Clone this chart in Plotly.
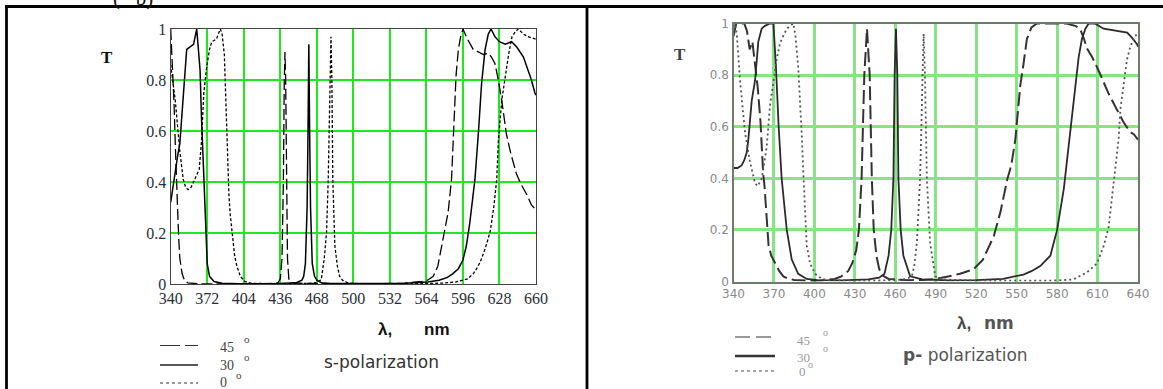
import plotly.graph_objects as go

# ---------------- data: s-polarization (left panel) ----------------
s_x_ticks = list(range(340, 661, 32))
s45_x = [340, 341, 342, 343, 344, 345, 346, 347, 348, 350, 352, 355, 365, 380, 400, 420, 430, 434, 436, 437.5,
         438.7, 439.5, 440.1, 440.7, 441.4, 442.3, 443.5, 446, 455, 480, 520, 545, 555, 560, 565, 570, 574, 577,
         580, 583, 586, 588, 590, 592, 594, 596, 600, 605, 610, 614, 618, 621, 624, 627, 630, 634, 638, 643,
         647, 652, 656, 660]
s45_y = [1.0, 0.9, 0.85, 0.7, 0.55, 0.45, 0.3, 0.18, 0.1, 0.04, 0.015, 0.004, 0.001, 0, 0, 0.001, 0.002, 0.005,
         0.02, 0.1, 0.4, 0.8, 0.91, 0.8, 0.4, 0.1, 0.02, 0.005, 0.002, 0.001, 0.001, 0.003, 0.006, 0.01, 0.015,
         0.03, 0.07, 0.14, 0.2, 0.28, 0.41, 0.6, 0.82, 0.92, 0.97, 1.0, 0.96, 0.92, 0.91, 0.9, 0.905, 0.89,
         0.865, 0.8, 0.72, 0.59, 0.51, 0.43, 0.39, 0.35, 0.31, 0.29]
s30_x = [340, 342, 344, 346, 348, 350, 351, 353, 354, 357, 360, 362.8, 364.3, 365.7, 367, 368.6, 370, 371, 372,
         374, 378, 385, 400, 430, 445, 450, 455, 456.5, 458, 459.5, 460.3, 461, 461.7, 462.5, 464, 466, 468, 472,
         480, 500, 530, 545, 555, 565, 575, 582, 587, 592, 596, 599, 602, 604, 606.5, 609.5, 612.4, 615.4,
         618.2, 620.6, 624, 628, 633, 638.6, 643, 649, 653, 656, 659, 660]
s30_y = [0.32, 0.38, 0.45, 0.5, 0.55, 0.68, 0.75, 0.88, 0.92, 0.93, 0.94, 1.0, 0.92, 0.84, 0.65, 0.46, 0.33,
         0.15, 0.08, 0.03, 0.01, 0.003, 0.001, 0.001, 0.002, 0.005, 0.015, 0.03, 0.08, 0.3, 0.6, 0.94, 0.6, 0.3,
         0.08, 0.03, 0.015, 0.005, 0.002, 0.001, 0.002, 0.003, 0.005, 0.008, 0.015, 0.025, 0.04, 0.06, 0.094,
         0.15, 0.24, 0.32, 0.41, 0.59, 0.79, 0.92, 0.98, 1.0, 0.97, 0.95, 0.94, 0.95, 0.93, 0.89, 0.84, 0.8,
         0.75, 0.74]
s0_x = [340, 342, 344, 346, 348, 351, 353, 355.4, 358, 360, 362, 365, 367, 369, 371.5, 374, 376, 380, 383.5,
        385, 387, 388.5, 390, 391, 392, 394, 396, 398, 401, 405, 410, 430, 465, 470, 472, 474.5, 476.5, 478,
        479.5, 480.4, 481.2, 482, 483.8, 486, 488, 490.5, 495, 500, 530, 560, 580, 590, 600, 605, 608, 611,
        614, 617, 620, 623, 625.6, 627, 630, 633, 636, 639, 642, 644.5, 649, 653, 660]
s0_y = [0.86, 0.8, 0.72, 0.62, 0.52, 0.41, 0.38, 0.37, 0.38, 0.4, 0.42, 0.45, 0.56, 0.75, 0.85, 0.92, 0.95,
        0.96, 1.0, 0.98, 0.9, 0.7, 0.45, 0.35, 0.28, 0.18, 0.11, 0.07, 0.03, 0.01, 0.003, 0.001, 0.003, 0.01,
        0.02, 0.1, 0.2, 0.41, 0.8, 0.97, 0.8, 0.41, 0.15, 0.07, 0.03, 0.015, 0.005, 0.002, 0.001, 0.001, 0.004,
        0.008, 0.02, 0.04, 0.06, 0.085, 0.12, 0.16, 0.21, 0.3, 0.41, 0.56, 0.72, 0.81, 0.9, 0.97, 0.99, 1.0,
        0.98, 0.97, 0.96]

# ---------------- data: p-polarization (right panel) ----------------
p_x_ticks = list(range(340, 641, 30))
p45_x = [340, 342, 345, 348, 350, 352, 354, 356, 358, 360, 361, 362, 363, 364, 366, 368, 371, 374, 377, 380,
         385, 395, 405, 415, 420, 425, 428, 431, 433, 435, 437, 439, 441, 442.6, 444, 446, 448, 450, 455, 460,
         470, 480, 490, 500, 508, 518, 525, 533, 538, 543, 546, 549, 551.4, 552.7, 555, 557.6, 561, 565, 573,
         587, 594, 597, 600, 602, 606, 611, 618, 623, 629, 634, 637, 640]
p45_y = [0.95, 1.0, 1.0, 1.0, 0.97, 0.9, 0.93, 0.85, 0.75, 0.62, 0.5, 0.42, 0.37, 0.3, 0.14, 0.1, 0.07, 0.04,
         0.02, 0.012, 0.006, 0.003, 0.004, 0.01, 0.02, 0.04, 0.07, 0.12, 0.2, 0.4, 0.8, 0.98, 0.8, 0.4, 0.2, 0.1,
         0.05, 0.025, 0.01, 0.008, 0.005, 0.006, 0.01, 0.02, 0.03, 0.047, 0.085, 0.175, 0.27, 0.395, 0.45, 0.55,
         0.67, 0.76, 0.84, 0.94, 0.985, 1.0, 1.0, 1.0, 0.99, 0.98, 0.94, 0.905, 0.87, 0.815, 0.73, 0.68, 0.62,
         0.58, 0.57, 0.55]
p30_x = [340, 343, 346, 348, 349.8, 351, 353.5, 356, 358.4, 360.9, 363, 367, 369.6, 371.5, 373.5, 375.7, 379.5,
         383.2, 388, 394.3, 402, 420, 440, 448, 452, 455, 457, 458.6, 459.5, 460.5, 461.5, 462.3, 464, 466, 471,
         480, 500, 520, 540, 550, 555, 561, 567.5, 575, 580, 585, 588.5, 591, 593.5, 596, 598.4, 601, 603.4,
         608, 614.5, 621, 627, 632, 635.5, 639.3, 640]
p30_y = [0.44, 0.44, 0.45, 0.47, 0.5, 0.55, 0.7, 0.78, 0.93, 0.98, 0.99, 1.0, 1.0, 0.83, 0.6, 0.4, 0.2, 0.085,
         0.03, 0.01, 0.005, 0.004, 0.008, 0.015, 0.03, 0.1, 0.2, 0.4, 0.8, 0.98, 0.8, 0.4, 0.2, 0.1, 0.02, 0.008,
         0.004, 0.005, 0.01, 0.02, 0.027, 0.04, 0.06, 0.1, 0.2, 0.36, 0.52, 0.65, 0.77, 0.87, 0.94, 0.98, 1.0,
         1.0, 0.98, 0.975, 0.97, 0.965, 0.945, 0.92, 0.91]
p0_x = [340, 341, 342.4, 345, 348.5, 352, 356, 358, 361, 364.6, 367, 369.6, 372, 374.5, 379.5, 384.4, 386, 388,
        389.4, 390.6, 391.8, 393, 394.3, 396.8, 400.5, 405.5, 410, 440, 460, 468, 472.3, 474, 476, 478.4, 480,
        481, 482, 483.4, 485.8, 489.6, 495, 520, 560, 580, 592, 602, 609.6, 614.5, 618.2, 620.7, 623.2, 625.6,
        627, 629.3, 631.8, 634.3, 637.3, 640]
p0_y = [0.97, 1.0, 0.96, 0.77, 0.58, 0.47, 0.38, 0.37, 0.4, 0.52, 0.68, 0.77, 0.86, 0.925, 0.98, 1.0, 0.95,
        0.83, 0.7, 0.57, 0.42, 0.25, 0.14, 0.07, 0.03, 0.01, 0.005, 0.003, 0.005, 0.01, 0.02, 0.06, 0.15, 0.4,
        0.8, 0.96, 0.8, 0.4, 0.15, 0.02, 0.008, 0.004, 0.003, 0.004, 0.008, 0.035, 0.07, 0.137, 0.21, 0.32,
        0.45, 0.55, 0.67, 0.76, 0.86, 0.91, 0.95, 0.96]

y_ticks = [0, 0.2, 0.4, 0.6, 0.8, 1]

# ---------------- layout geometry (pixels) ----------------
W, H = 1163, 389
def fx(px):
    return px / W
def fy(py):
    return 1 - py / H

L = dict(x0=170.7, x1=536.0, y0=284.0, y1=29.0)
R = dict(x0=733.5, x1=1138.0, y0=281.5, y1=23.5)

fig = go.Figure()

fig.add_trace(go.Scatter(x=s45_x, y=s45_y, mode="lines", xaxis="x", yaxis="y",
                         line=dict(color="#000", width=1.3, dash="11px,4px")))
fig.add_trace(go.Scatter(x=s30_x, y=s30_y, mode="lines", xaxis="x", yaxis="y",
                         line=dict(color="#000", width=1.5)))
fig.add_trace(go.Scatter(x=s0_x, y=s0_y, mode="lines", xaxis="x", yaxis="y",
                         line=dict(color="#000", width=1.3, dash="3px,2px")))
fig.add_trace(go.Scatter(x=p45_x, y=p45_y, mode="lines", xaxis="x2", yaxis="y2",
                         line=dict(color="#333", width=2, dash="14px,5px")))
fig.add_trace(go.Scatter(x=p30_x, y=p30_y, mode="lines", xaxis="x2", yaxis="y2",
                         line=dict(color="#2a2a2a", width=1.8)))
fig.add_trace(go.Scatter(x=p0_x, y=p0_y, mode="lines", xaxis="x2", yaxis="y2",
                         line=dict(color="#555", width=1.8, dash="2px,3px")))

left_tick_font = dict(family="Liberation Serif", size=16, color="#2a2f3a")
right_tick_font = dict(family="DejaVu Sans", size=12, color="#8a8a8a")

common = dict(showgrid=True, zeroline=False, showline=True, mirror=True, ticks="", automargin=False)

fig.update_layout(
    width=W, height=H, margin=dict(l=0, r=0, t=0, b=0, pad=0),
    paper_bgcolor="white", plot_bgcolor="white", showlegend=False,
    xaxis=dict(domain=[fx(L["x0"]), fx(L["x1"])], anchor="y", range=[340, 660],
               tickmode="array", tickvals=s_x_ticks, ticktext=[str(v) for v in s_x_ticks],
               gridcolor="#1fe81f", gridwidth=1.6, linecolor="#444", linewidth=1.3,
               tickfont=left_tick_font, **common),
    yaxis=dict(domain=[fy(L["y0"]), fy(L["y1"])], anchor="x", range=[0, 1],
               tickmode="array", tickvals=y_ticks, ticktext=["0", "0.2", "0.4", "0.6", "0.8", "1"],
               gridcolor="#1fe81f", gridwidth=1.6, linecolor="#444", linewidth=1.3,
               tickfont=left_tick_font, **common),
    xaxis2=dict(domain=[fx(R["x0"]), fx(R["x1"])], anchor="y2", range=[340, 640],
                tickmode="array", tickvals=p_x_ticks, ticktext=[str(v) for v in p_x_ticks],
                gridcolor="#86e486", gridwidth=2.6, linecolor="#6e7a6e", linewidth=2.4,
                tickfont=right_tick_font, **common),
    yaxis2=dict(domain=[fy(R["y0"]), fy(R["y1"])], anchor="x2", range=[0, 1],
                tickmode="array", tickvals=y_ticks, ticktext=["0", "0.2", "0.4", "0.6", "0.8", "1"],
                gridcolor="#86e486", gridwidth=2.6, linecolor="#6e7a6e", linewidth=2.4,
                tickfont=right_tick_font, **common),
)

shapes = []
def hline(x0, x1, y, color, width, dash=None):
    d = dict(type="line", xref="paper", yref="paper", x0=fx(x0), x1=fx(x1), y0=fy(y), y1=fy(y),
             line=dict(color=color, width=width))
    if dash:
        d["line"]["dash"] = dash
    return d

shapes.append(hline(5, 1163, 6.5, "#000", 2.8))
shapes.append(dict(type="line", xref="paper", yref="paper", x0=fx(6.5), x1=fx(6.5), y0=fy(5.5), y1=0,
                   line=dict(color="#000", width=2.8)))
shapes.append(dict(type="line", xref="paper", yref="paper", x0=fx(587), x1=fx(587), y0=fy(5.5), y1=0,
                   line=dict(color="#000", width=2.8)))

shapes.append(hline(160, 198, 345.5, "#333", 1.2, "20px,5px"))
shapes.append(hline(160, 198, 365, "#222", 1.3))
shapes.append(hline(160, 198, 383, "#333", 1.2, "3px,3px"))
shapes.append(hline(735, 775, 337, "#9a9a9a", 2, "15px,6px"))
shapes.append(hline(735, 775, 356, "#333", 2.6))
shapes.append(hline(735, 775, 371, "#888", 1.5, "3px,3px"))
fig.update_layout(shapes=shapes)

ann = []
def text(px, py, t, size, family, color="#000", xanchor="center", yanchor="middle"):
    ann.append(dict(xref="paper", yref="paper", x=fx(px), y=fy(py), text=t, showarrow=False,
                    xanchor=xanchor, yanchor=yanchor, borderpad=0,
                    font=dict(size=size, family=family, color=color)))

text(133, 11, "(\u00a0\u00a0\u00a0b)", 21, "Liberation Serif", "#111", yanchor="bottom")

# left panel texts
text(107, 57, "<b>T</b>", 17, "Liberation Serif", "#111")
text(377, 329, "<b>λ,</b>", 17, "Liberation Sans", "#111", xanchor="left")
text(423, 329, "<b>nm</b>", 17, "Liberation Sans", "#111", xanchor="left")
text(219, 347, "45", 14, "Liberation Serif", "#444", xanchor="left")
text(243, 339, "o", 11, "Liberation Serif", "#444", xanchor="left")
text(219, 365, "30", 14, "Liberation Serif", "#444", xanchor="left")
text(243, 357, "o", 11, "Liberation Serif", "#444", xanchor="left")
text(219, 382, "0", 14, "Liberation Serif", "#444", xanchor="left")
text(235, 375, "o", 11, "Liberation Serif", "#444", xanchor="left")
text(323, 362, "s-polarization", 17, "DejaVu Sans", "#333", xanchor="left")

# right panel texts
text(680, 55, "<b>T</b>", 17, "Liberation Serif", "#444")
text(956, 323, "<b>λ,</b>", 17, "Liberation Sans", "#444", xanchor="left")
text(983, 323, "<b>nm</b>", 17, "DejaVu Sans", "#555", xanchor="left")
text(796, 340, "45", 13, "Liberation Serif", "#999", xanchor="left")
text(822, 332, "o", 10, "Liberation Serif", "#999", xanchor="left")
text(796, 357, "30", 13, "Liberation Serif", "#999", xanchor="left")
text(822, 348, "o", 10, "Liberation Serif", "#999", xanchor="left")
text(798, 371, "0", 13, "Liberation Serif", "#999", xanchor="left")
text(807, 364, "o", 10, "Liberation Serif", "#999", xanchor="left")
text(902, 355, "<b>p-</b> polarization", 17, "DejaVu Sans", "#555", xanchor="left")

fig.update_layout(annotations=ann)

fig.write_html("out.html", config={"displayModeBar": False},
               post_script="document.body.style.margin='0px';document.body.style.overflow='hidden';")
